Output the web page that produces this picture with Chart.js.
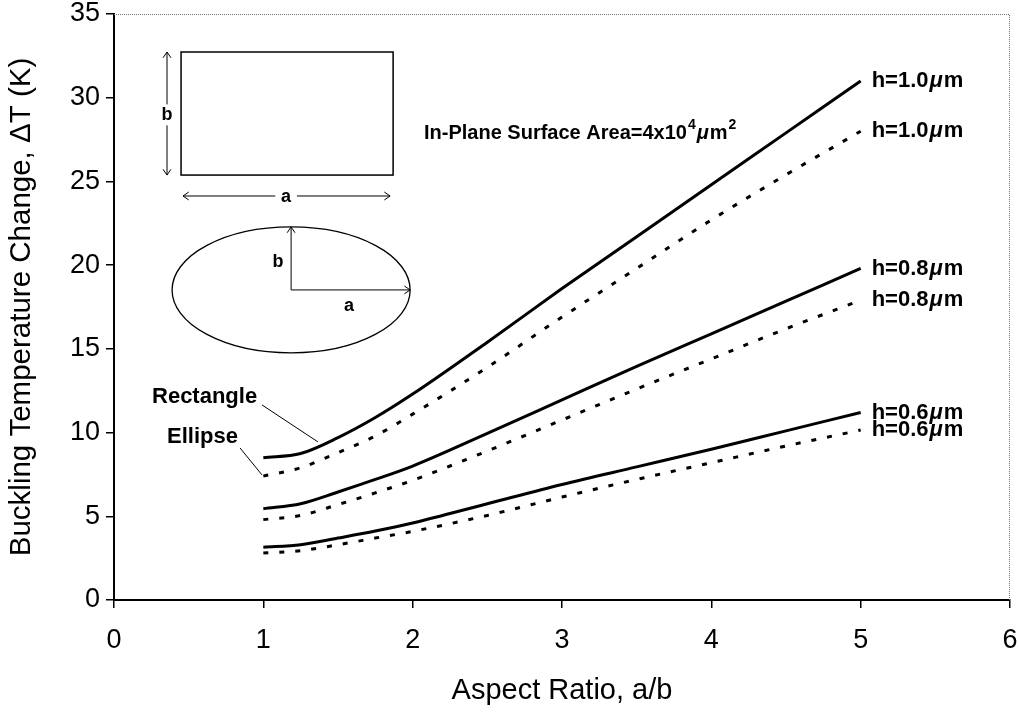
<!DOCTYPE html>
<html lang="en">
<head>
    <meta charset="UTF-8">
    <title>Buckling Temperature Change vs Aspect Ratio</title>
    <style>
        body {
            margin: 0;
            background-color: #fff;
        }

        .chart-container {
            width: 1019px;
            height: 714px;
        }
    </style>
</head>
<body>
    <div class="chart-container">
        <canvas id="bucklingChart" width="1019" height="714"></canvas>
    </div>

    <script src="https://cdn.jsdelivr.net/npm/chart.js"></script>
    <script>
        // aspect ratio a/b
        const aspect = [1, 1.25, 1.5, 1.75, 2, 2.5, 3, 3.5, 4, 4.5, 5];

        // buckling temperature change (K)
        const rect10 = [8.5, 8.75, 9.7, 10.9, 12.3, 15.4, 18.6, 21.7, 24.8, 27.9, 31.0];
        const ellipse10 = [7.4, 7.9, 8.8, 9.8, 11.1, 13.9, 16.9, 19.8, 22.7, 25.4, 28.0];
        const rect08 = [5.45, 5.75, 6.45, 7.2, 8.0, 9.95, 11.95, 13.95, 15.9, 17.85, 19.8];
        const ellipse08 = [4.8, 5.05, 5.7, 6.4, 7.15, 8.9, 10.75, 12.6, 14.4, 16.2, 17.9];
        const rect06 = [3.15, 3.3, 3.7, 4.12, 4.6, 5.75, 6.9, 7.95, 9.0, 10.1, 11.2];
        const ellipse06 = [2.8, 2.95, 3.3, 3.7, 4.1, 5.05, 6.15, 7.2, 8.2, 9.2, 10.15];

        const seriesLabels = ['h=1.0', 'h=1.0', 'h=0.8', 'h=0.8', 'h=0.6', 'h=0.6'];
        const unitMu = '\u03bc';
        const unitM = 'm';

        const xTicks = [0, 1, 2, 3, 4, 5, 6];
        const yTicks = [0, 5, 10, 15, 20, 25, 30, 35];

        const FONT = '"Liberation Sans", Arial, sans-serif';

        function points(values) {
            return values.map((v, i) => ({ x: aspect[i], y: v }));
        }

        function makeSet(label, values, dotted) {
            return {
                label: label,
                data: points(values),
                borderColor: '#000',
                borderWidth: 3,
                borderDash: dotted ? [5, 11] : [],
                pointRadius: 0,
                fill: false,
                cubicInterpolationMode: 'monotone'
            };
        }

        // frame, inset sketches, notes and end labels
        const decorations = {
            id: 'decorations',
            afterDatasetsDraw(chart) {
                const ctx = chart.ctx;
                const xs = chart.scales.x;
                const ys = chart.scales.y;
                const px = v => xs.getPixelForValue(v);
                const py = v => ys.getPixelForValue(v);
                const area = chart.chartArea;

                ctx.save();

                // top and right frame
                ctx.strokeStyle = '#777';
                ctx.lineWidth = 1;
                ctx.setLineDash([1, 1]);
                ctx.beginPath();
                ctx.moveTo(area.left, area.top + 0.5);
                ctx.lineTo(area.right - 0.5, area.top + 0.5);
                ctx.lineTo(area.right - 0.5, area.bottom);
                ctx.stroke();
                ctx.setLineDash([]);

                ctx.strokeStyle = '#000';
                ctx.fillStyle = '#000';

                function arrowHead(x, y, angle) {
                    const s = 7;
                    ctx.beginPath();
                    ctx.moveTo(x - s * Math.cos(angle - 0.6), y - s * Math.sin(angle - 0.6));
                    ctx.lineTo(x, y);
                    ctx.lineTo(x - s * Math.cos(angle + 0.6), y - s * Math.sin(angle + 0.6));
                    ctx.stroke();
                }

                // rectangle inset
                ctx.lineWidth = 1.5;
                ctx.strokeRect(px(0.449), py(32.73), px(1.869) - px(0.449), py(25.38) - py(32.73));

                ctx.font = 'bold 18px ' + FONT;
                ctx.textAlign = 'center';
                ctx.textBaseline = 'middle';

                // b arrow beside rectangle
                const bx = px(0.355);
                ctx.lineWidth = 1;
                ctx.beginPath();
                ctx.moveTo(bx, py(32.73));
                ctx.lineTo(bx, py(29.6));
                ctx.moveTo(bx, py(28.35));
                ctx.lineTo(bx, py(25.38));
                ctx.stroke();
                arrowHead(bx, py(32.73), -Math.PI / 2);
                arrowHead(bx, py(25.38), Math.PI / 2);
                ctx.fillText('b', bx, py(28.97));

                // a arrow under rectangle
                const ay = py(24.13);
                ctx.beginPath();
                ctx.moveTo(px(0.462), ay);
                ctx.lineTo(px(1.08), ay);
                ctx.moveTo(px(1.225), ay);
                ctx.lineTo(px(1.849), ay);
                ctx.stroke();
                arrowHead(px(0.462), ay, Math.PI);
                arrowHead(px(1.849), ay, 0);
                ctx.fillText('a', px(1.152), ay + 1);

                // ellipse inset
                const cx = px(1.186);
                const cy = py(18.52);
                const rx = px(1.186 + 0.797) - cx;
                const ry = cy - py(18.52 + 3.76);
                ctx.lineWidth = 1.3;
                ctx.beginPath();
                ctx.ellipse(cx, cy, rx, ry, 0, 0, Math.PI * 2);
                ctx.stroke();
                ctx.lineWidth = 1;
                ctx.beginPath();
                ctx.moveTo(cx, cy);
                ctx.lineTo(cx, cy - ry);
                ctx.moveTo(cx, cy);
                ctx.lineTo(cx + rx, cy);
                ctx.stroke();
                arrowHead(cx, cy - ry, -Math.PI / 2);
                arrowHead(cx + rx, cy, 0);
                ctx.fillText('b', px(1.098), py(20.19));
                ctx.fillText('a', px(1.574), py(17.56));

                // surface area note
                ctx.textAlign = 'left';
                ctx.textBaseline = 'alphabetic';
                let tx = px(2.076);
                const tb = py(27.53);
                const parts = [
                    ['In-Plane Surface Area=4x10', 0, 'bold 20px '],
                    ['4', -10, 'bold 14px '],
                    ['\u03bc', 0, 'bold italic 20px '],
                    ['m', 0, 'bold 20px '],
                    ['2', -10, 'bold 14px ']
                ];
                parts.forEach(p => {
                    ctx.font = p[2] + FONT;
                    ctx.fillText(p[0], tx, tb + p[1]);
                    tx += ctx.measureText(p[0]).width + 1;
                });

                // shape labels with leader lines
                ctx.font = 'bold 22px ' + FONT;
                ctx.textBaseline = 'middle';
                ctx.fillText('Rectangle', px(0.2545), py(12.12));
                ctx.fillText('Ellipse', px(0.355), py(9.74));
                ctx.lineWidth = 1;
                ctx.beginPath();
                ctx.moveTo(px(0.991), py(11.65));
                ctx.lineTo(px(1.366), py(9.44));
                ctx.moveTo(px(0.844), py(9.08));
                ctx.lineTo(px(0.991), py(7.47));
                ctx.stroke();

                // thickness labels at the line ends
                chart.data.datasets.forEach((ds, i) => {
                    const meta = chart.getDatasetMeta(i);
                    const last = meta.data[meta.data.length - 1];
                    let lx = last.x + 11;
                    ctx.font = 'bold 22px ' + FONT;
                    ctx.fillText(ds.label, lx, last.y);
                    lx += ctx.measureText(ds.label).width + 1;
                    ctx.font = 'bold italic 22px ' + FONT;
                    ctx.fillText(unitMu, lx, last.y);
                    lx += ctx.measureText(unitMu).width + 1;
                    ctx.font = 'bold 22px ' + FONT;
                    ctx.fillText(unitM, lx, last.y);
                });

                ctx.restore();
            }
        };

        const ctx = document.getElementById('bucklingChart').getContext('2d');
        const bucklingChart = new Chart(ctx, {
            type: 'line',
            data: {
                datasets: [
                    makeSet(seriesLabels[0], rect10, false),
                    makeSet(seriesLabels[1], ellipse10, true),
                    makeSet(seriesLabels[2], rect08, false),
                    makeSet(seriesLabels[3], ellipse08, true),
                    makeSet(seriesLabels[4], rect06, false),
                    makeSet(seriesLabels[5], ellipse06, true)
                ]
            },
            options: {
                responsive: false,
                animation: false,
                layout: {
                    padding: { top: 14, right: 9, left: 0, bottom: 0 }
                },
                plugins: {
                    legend: { display: false },
                    tooltip: { enabled: false }
                },
                scales: {
                    x: {
                        type: 'linear',
                        min: 0,
                        max: 6,
                        afterBuildTicks: scale => {
                            scale.ticks = xTicks.map(v => ({ value: v }));
                        },
                        afterFit: scale => {
                            scale.height = 114;
                            scale.paddingLeft = 0;
                            scale.paddingRight = 0;
                        },
                        grid: {
                            drawOnChartArea: false,
                            drawTicks: true,
                            tickLength: 8,
                            color: '#000',
                            lineWidth: 1.5
                        },
                        border: { color: '#000', width: 2 },
                        ticks: {
                            color: '#000',
                            padding: 16,
                            maxRotation: 0,
                            font: { family: FONT, size: 27 }
                        },
                        title: {
                            display: true,
                            text: 'Aspect Ratio, a/b',
                            color: '#000',
                            padding: { top: 0, bottom: 6 },
                            font: { family: FONT, size: 29 }
                        }
                    },
                    y: {
                        min: 0,
                        max: 35,
                        afterBuildTicks: scale => {
                            scale.ticks = yTicks.map(v => ({ value: v }));
                        },
                        afterFit: scale => {
                            scale.width = 114;
                            scale.paddingTop = 0;
                            scale.paddingBottom = 0;
                        },
                        grid: {
                            drawOnChartArea: false,
                            drawTicks: true,
                            tickLength: 8,
                            color: '#000',
                            lineWidth: 1.5
                        },
                        border: { color: '#000', width: 2 },
                        ticks: {
                            color: '#000',
                            padding: 6,
                            font: { family: FONT, size: 27 }
                        },
                        title: {
                            display: true,
                            text: 'Buckling Temperature Change, \u0394T (K)',
                            color: '#000',
                            padding: { top: 4, bottom: 0 },
                            font: { family: FONT, size: 29.5 }
                        }
                    }
                }
            },
            plugins: [decorations]
        });
    </script>
</body>
</html>
